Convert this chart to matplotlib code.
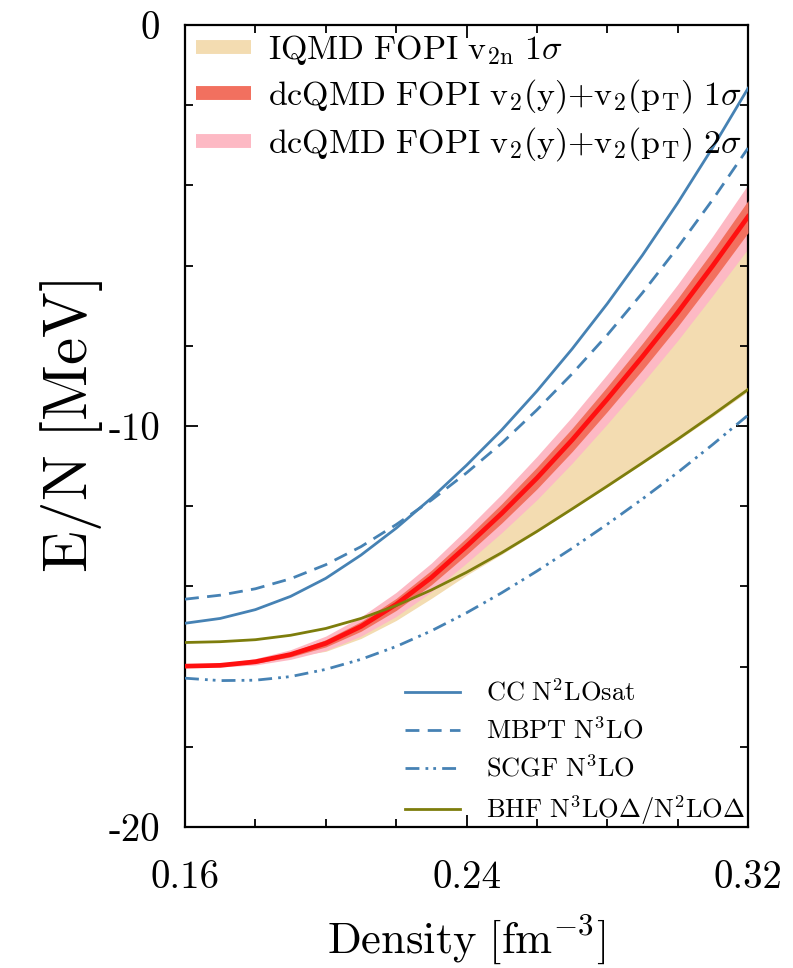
import matplotlib
matplotlib.use("Agg")
import matplotlib.pyplot as plt
from matplotlib.lines import Line2D
from matplotlib.ticker import MultipleLocator
import numpy as np

plt.rcParams["font.family"] = "serif"
plt.rcParams["font.serif"] = ["cmr10"]
plt.rcParams["mathtext.fontset"] = "cm"
plt.rcParams["axes.formatter.use_mathtext"] = True
plt.rcParams["axes.unicode_minus"] = False

# density grid (fm^-3)
rho = [0.16, 0.17, 0.18, 0.19, 0.20, 0.21, 0.22, 0.23, 0.24,
       0.25, 0.26, 0.27, 0.28, 0.29, 0.30, 0.31, 0.32]

# ab initio curves, E/N in MeV
cc_n2losat = [-14.92, -14.80, -14.58, -14.25, -13.80, -13.22, -12.55, -11.80, -10.98,
              -10.10, -9.13, -8.08, -6.95, -5.74, -4.44, -3.05, -1.58]
mbpt_n3lo = [-14.32, -14.22, -14.06, -13.81, -13.46, -13.01, -12.46, -11.85, -11.17,
             -10.43, -9.60, -8.70, -7.73, -6.68, -5.55, -4.35, -3.07]
scgf_n3lo = [-16.29, -16.35, -16.34, -16.25, -16.07, -15.82, -15.50, -15.11, -14.66,
             -14.16, -13.62, -13.05, -12.45, -11.82, -11.16, -10.46, -9.73]
bhf_delta = [-15.40, -15.38, -15.33, -15.22, -15.05, -14.80, -14.48, -14.09, -13.65,
             -13.16, -12.63, -12.07, -11.50, -10.92, -10.33, -9.72, -9.09]

# dcQMD FOPI v2(y)+v2(pT): central value and half widths of 1 and 2 sigma bands
dcqmd_mid = [-15.99, -15.97, -15.88, -15.70, -15.42, -15.00, -14.45, -13.78, -13.00,
             -12.18, -11.30, -10.35, -9.33, -8.27, -7.17, -6.00, -4.78]
dcqmd_1s = [0.00, 0.02, 0.04, 0.06, 0.09, 0.12, 0.15, 0.18, 0.21,
            0.24, 0.27, 0.29, 0.31, 0.33, 0.35, 0.37, 0.40]
dcqmd_2s = [0.00, 0.04, 0.08, 0.12, 0.18, 0.24, 0.30, 0.36, 0.42,
            0.48, 0.54, 0.58, 0.62, 0.66, 0.70, 0.74, 0.80]

# IQMD FOPI v2n 1 sigma band
rho_iqmd = [0.19, 0.20, 0.21, 0.22, 0.23, 0.24, 0.25, 0.26, 0.27, 0.28, 0.29, 0.30, 0.31, 0.32]
iqmd_hi = [-15.76, -15.51, -15.12, -14.60, -13.96, -13.21, -12.42, -11.57, -10.64,
           -9.64, -8.60, -7.52, -6.37, -5.18]
iqmd_lo = [-15.76, -15.62, -15.30, -14.85, -14.30, -13.72, -13.20, -12.65, -12.08,
           -11.52, -10.94, -10.36, -9.76, -9.14]

labels_top = [r"$\mathrm{IQMD\ FOPI\ v_{2n}\ 1\sigma}$",
              r"$\mathrm{dcQMD\ FOPI\ v_2(y){+}v_2(p_T)\ 1\sigma}$",
              r"$\mathrm{dcQMD\ FOPI\ v_2(y){+}v_2(p_T)\ 2\sigma}$"]
labels_bot = [r"$\mathrm{CC\ N^2LOsat}$",
              r"$\mathrm{MBPT\ N^3LO}$",
              r"$\mathrm{SCGF\ N^3LO}$",
              r"$\mathrm{BHF\ N^3LO\Delta/N^2LO\Delta}$"]

xticks = [0.16, 0.24, 0.32]
xticklabels = ["0.16", "0.24", "0.32"]
yticks = [-20, -10, 0]
yticklabels = ["-20", "-10", "0"]

blue = "#4682b4"
olive = "#7d7d0c"
red = "#ff1010"
salmon = "#f2705f"
pink = "#fdb9c4"
tan = "#f3dcb1"
dash = (0, (5, 3))
dashdotdot = (0, (5, 2.2, 1, 1.8, 1, 2.2))

fig = plt.figure(figsize=(7.93, 9.68), dpi=100)
ax = fig.add_axes([0.2333, 0.1457, 0.71, 0.8285])

r = np.array(rho)
mid = np.array(dcqmd_mid)
s1 = np.array(dcqmd_1s)
s2 = np.array(dcqmd_2s)

ax.fill_between(rho_iqmd, iqmd_lo, iqmd_hi, color=tan, lw=0, zorder=1)
ax.fill_between(r, mid - s2, mid + s2, color=pink, lw=0, zorder=2)
ax.fill_between(r, mid - s1, mid + s1, color=salmon, lw=0, zorder=3)
ax.plot(r, mid, color=red, lw=3.4, zorder=4)

ax.plot(rho, cc_n2losat, color=blue, lw=2.0, zorder=5)
ax.plot(rho, mbpt_n3lo, color=blue, lw=2.0, ls=dash, zorder=5)
ax.plot(rho, scgf_n3lo, color=blue, lw=2.0, ls=dashdotdot, zorder=5)
ax.plot(rho, bhf_delta, color=olive, lw=2.0, zorder=5)

ax.set_xlim(0.16, 0.32)
ax.set_ylim(-20, 0)
ax.set_xticks(xticks)
ax.set_xticklabels(xticklabels)
ax.set_yticks(yticks)
ax.set_yticklabels(yticklabels)
ax.xaxis.set_minor_locator(MultipleLocator(0.02))
ax.yaxis.set_minor_locator(MultipleLocator(2))
ax.tick_params(which="both", direction="in", top=True, right=True, width=1.3,
               labelsize=28)
ax.tick_params(which="major", length=9)
ax.tick_params(which="minor", length=6)
ax.tick_params(axis="x", pad=24)
ax.tick_params(axis="y", pad=18)
for s in ax.spines.values():
    s.set_linewidth(1.6)

ax.set_ylabel(r"$\mathrm{E/N\ [MeV]}$", fontsize=44, labelpad=2)
ax.set_xlabel(r"$\mathrm{Density\ [fm^{-3}]}$", fontsize=32, labelpad=12)

h_top = [Line2D([], [], color=tan, lw=10, solid_capstyle="butt"),
         Line2D([], [], color=salmon, lw=10, solid_capstyle="butt"),
         Line2D([], [], color=pink, lw=10, solid_capstyle="butt")]
leg1 = ax.legend(h_top, labels_top, loc="upper left", bbox_to_anchor=(0.02, 0.99),
                 frameon=False, fontsize=24.5, handlelength=1.6, handletextpad=0.5,
                 labelspacing=0.3, borderpad=0, borderaxespad=0)
ax.add_artist(leg1)

h_bot = [Line2D([], [], color=blue, lw=2.0),
         Line2D([], [], color=blue, lw=2.0, ls=dash),
         Line2D([], [], color=blue, lw=2.0, ls=dashdotdot),
         Line2D([], [], color=olive, lw=2.0)]
ax.legend(h_bot, labels_bot, loc="lower left", bbox_to_anchor=(0.39, 0.0),
          frameon=False, fontsize=19, handlelength=2.1, handletextpad=1.0,
          labelspacing=0.42, borderpad=0, borderaxespad=0)

fig.savefig("out.png", dpi=100)
